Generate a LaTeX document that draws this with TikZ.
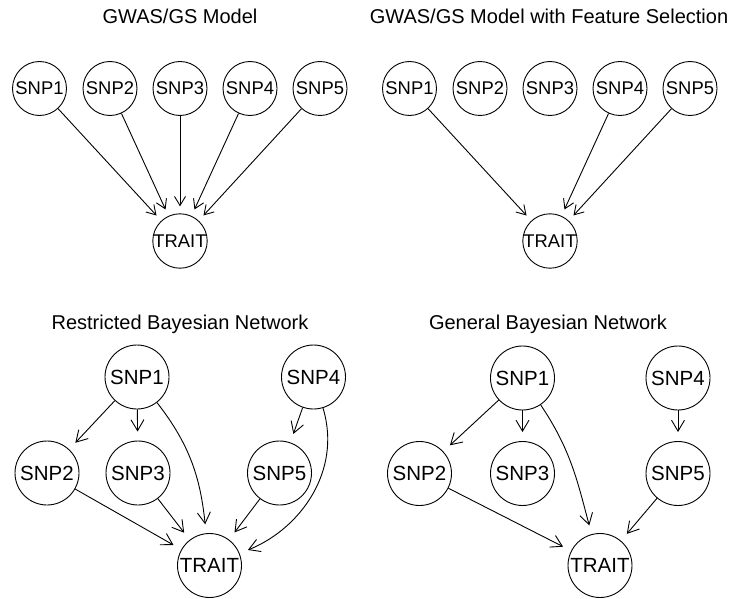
\documentclass[tikz,border=0pt]{standalone}
\usepackage{fontspec}
\setmainfont{Liberation Sans}
\usetikzlibrary{arrows.meta}

\begin{document}
\begin{tikzpicture}[x=1pt, y=1pt, line width=0.9pt]
		\tikzset{title/.style = {anchor=base, font=\fontsize{20}{24}\selectfont}}
		\tikzset{snp/.style = {shape=circle, draw, inner sep=0pt, minimum size=54pt, font=\fontsize{18.4}{22}\selectfont}}
		\tikzset{bigsnp/.style = {shape=circle, draw, inner sep=0pt, minimum size=64pt, font=\fontsize{20.5}{24}\selectfont}}
		\tikzset{edge/.style = {-{Straight Barb[length=9pt,width=11pt]}, shorten >=7pt}}
		\tikzset{bigedge/.style = {-{Straight Barb[length=11pt,width=13pt]}, shorten >=9pt}}

		\useasboundingbox (0,0) rectangle (733,-599);

		% GWAS/GS model
		\node[title] (Atitle) at (180,-24) {GWAS/GS Model};
		\node[snp] (A1) at (39.5,-88.5) {SNP1};
		\node[snp] (A2) at (110,-88.5) {SNP2};
		\node[snp] (A3) at (180,-88.5) {SNP3};
		\node[snp] (A4) at (250,-88.5) {SNP4};
		\node[snp] (A5) at (320,-88.5) {SNP5};
		\node[snp] (AT) at (180,-241) {TRAIT};

		\draw[edge] (A1) to (AT);
		\draw[edge] (A2) to (AT);
		\draw[edge] (A3) to (AT);
		\draw[edge] (A4) to (AT);
		\draw[edge] (A5) to (AT);

		% with feature selection
		\node[title] (Btitle) at (549,-24) {GWAS/GS Model with Feature Selection};
		\node[snp] (B1) at (409.5,-88.5) {SNP1};
		\node[snp] (B2) at (480,-88.5) {SNP2};
		\node[snp] (B3) at (550,-88.5) {SNP3};
		\node[snp] (B4) at (620,-88.5) {SNP4};
		\node[snp] (B5) at (690,-88.5) {SNP5};
		\node[snp] (BT) at (550,-241) {TRAIT};

		\draw[edge] (B1) to (BT);
		\draw[edge] (B4) to (BT);
		\draw[edge] (B5) to (BT);

		% restricted BN
		\node[title] (Ctitle) at (180,-329) {Restricted Bayesian Network};
		\node[bigsnp] (C1) at (137,-377) {SNP1};
		\node[bigsnp] (C4) at (313.5,-377) {SNP4};
		\node[bigsnp] (C2) at (47,-473) {SNP2};
		\node[bigsnp] (C3) at (138,-473) {SNP3};
		\node[bigsnp] (C5) at (279.5,-473) {SNP5};
		\node[bigsnp] (CT) at (209.5,-565.5) {TRAIT};

		\draw[bigedge] (C1) to (C2);
		\draw[bigedge] (C1) to (C3);
		\draw[bigedge] (C1) to[out=-52, in=96] (CT);
		\draw[bigedge] (C2) to (CT);
		\draw[bigedge] (C3) to (CT);
		\draw[bigedge] (C4) to (C5);
		\draw[bigedge] (C4) to[out=-73, in=22] (CT);
		\draw[bigedge] (C5) to (CT);

		% general BN
		\node[title] (Dtitle) at (548,-329) {General Bayesian Network};
		\node[bigsnp] (D1) at (522.5,-378) {SNP1};
		\node[bigsnp] (D4) at (678,-378) {SNP4};
		\node[bigsnp] (D2) at (419.5,-473.5) {SNP2};
		\node[bigsnp] (D3) at (522.5,-473.5) {SNP3};
		\node[bigsnp] (D5) at (678,-473.5) {SNP5};
		\node[bigsnp] (DT) at (600,-565.5) {TRAIT};

		\draw[bigedge] (D1) to (D2);
		\draw[bigedge] (D1) to (D3);
		\draw[bigedge] (D1) to[out=-56, in=105] (DT);
		\draw[bigedge] (D2) to (DT);
		\draw[bigedge] (D4) to (D5);
		\draw[bigedge] (D5) to (DT);
	\end{tikzpicture}
\end{document}
